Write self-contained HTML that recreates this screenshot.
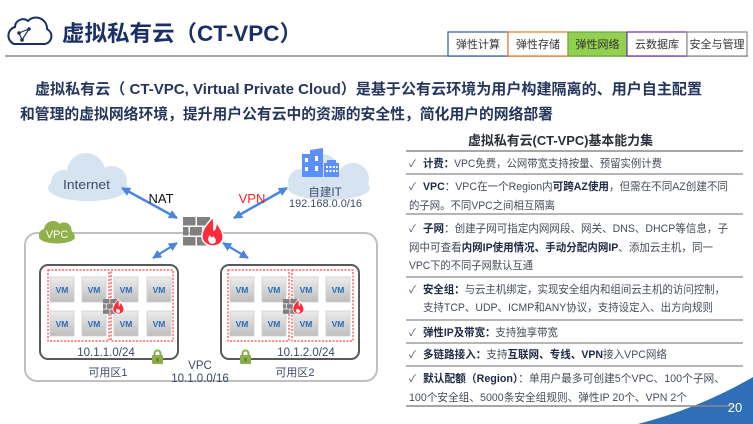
<!DOCTYPE html>
<html><head><meta charset="utf-8">
<style>
html,body{margin:0;padding:0;background:#fff;width:753px;height:424px;overflow:hidden;}
svg{display:block;}
text{font-family:"Liberation Sans","Noto Sans CJK SC",sans-serif;}
</style></head>
<body>
<svg width="753" height="424" viewBox="0 0 753 424" xmlns="http://www.w3.org/2000/svg">
<defs>
<linearGradient id="vmg" x1="0" y1="0" x2="0" y2="1">
<stop offset="0" stop-color="#ededed"/><stop offset="1" stop-color="#bdbdbd"/>
</linearGradient>
<marker id="ah" viewBox="0 0 10 10" refX="9" refY="5" markerWidth="9" markerHeight="9" markerUnits="userSpaceOnUse" orient="auto-start-reverse">
<path d="M0,0 L10,5 L0,10 Z" fill="#4a86e0"/>
</marker>
<g id="fw">
<rect x="0" y="0" width="12.5" height="8.5" fill="#808080"/>
<rect x="14" y="0" width="13" height="8.5" fill="#808080"/>
<rect x="0" y="10" width="5.5" height="8.5" fill="#808080"/>
<rect x="7" y="10" width="12" height="8.5" fill="#808080"/>
<rect x="20.5" y="10" width="6.5" height="8.5" fill="#808080"/>
<rect x="0" y="20" width="12.5" height="8.5" fill="#808080"/>
<rect x="14" y="20" width="13" height="8.5" fill="#808080"/>
<path d="M30,0 C24,7 18,13 19,21 C20,26 25,29 30,29 C36,29 41,25 40,18 C39,12 35,9 34,5 C32,9 33,12 31,13 C31,9 31,4 30,0 Z" fill="#ff2b3a" stroke="#fff" stroke-width="1.5"/>
<path d="M29,27 C25,26 24,21 27,18 C28,21 30,21 30,19 C32,21 34,23 32,26 Z" fill="#fff"/>
</g>
<g id="lock">
<path d="M2.5,7 V4.5 a3,3 0 0 1 6,0 V7" fill="none" stroke="#8bb04b" stroke-width="2"/>
<rect x="0" y="6" width="11" height="9" rx="1" fill="#8bb04b"/>
<rect x="4.5" y="9" width="2" height="3.5" fill="#5d7a2a"/>
</g>
</defs>

<!-- Header -->
<path d="M14,44 H45 a8,8 0 0 0 2,-15 a11,11 0 0 0 -19,-8 a8,8 0 0 0 -13,6 a9,9 0 0 0 -1,17 Z" fill="none" stroke="#1a2f66" stroke-width="2"/>
<path d="M19,33 L29,29 L22,40 Z" fill="none" stroke="#1a2f66" stroke-width="1.2"/>
<circle cx="19" cy="33" r="1.8" fill="#1a2f66"/>
<circle cx="29" cy="29" r="1.8" fill="#1a2f66"/>
<circle cx="22" cy="40" r="1.8" fill="#1a2f66"/>
<text x="62" y="41" font-size="22" font-weight="bold" fill="#1a2f66" textLength="240" lengthAdjust="spacingAndGlyphs">虚拟私有云（CT-VPC）</text>
<line x1="5" y1="56" x2="748" y2="56" stroke="#8a8a8a" stroke-width="1.5"/>

<!-- Tabs -->
<rect x="448" y="32" width="60" height="24" fill="#fff" stroke="#2e5d9c" stroke-width="1.2"/>
<rect x="508" y="32" width="60" height="24" fill="#fff" stroke="#ec7c22" stroke-width="1.2"/>
<rect x="568" y="32" width="59" height="24" fill="#92d050" stroke="#6fa33a" stroke-width="1.2"/>
<rect x="627" y="32" width="60" height="24" fill="#fff" stroke="#7030a0" stroke-width="1.2"/>
<rect x="687" y="32" width="60" height="24" fill="#fff" stroke="#8a8a8a" stroke-width="1.2"/>
<text x="478" y="48" font-size="11" fill="#333" text-anchor="middle">弹性计算</text>
<text x="538" y="48" font-size="11" fill="#333" text-anchor="middle">弹性存储</text>
<text x="597.5" y="48" font-size="11" fill="#333" text-anchor="middle">弹性网络</text>
<text x="657" y="48" font-size="11" fill="#333" text-anchor="middle">云数据库</text>
<text x="717" y="48" font-size="11" fill="#333" text-anchor="middle">安全与管理</text>

<!-- Main text -->
<text x="35" y="94" font-size="15" font-weight="bold" fill="#24365c" textLength="667" lengthAdjust="spacingAndGlyphs">虚拟私有云（ CT-VPC, Virtual Private Cloud）是基于公有云环境为用户构建隔离的、用户自主配置</text>
<text x="20" y="119" font-size="15" font-weight="bold" fill="#24365c" textLength="533" lengthAdjust="spacingAndGlyphs">和管理的虚拟网络环境，提升用户公有云中的资源的安全性，简化用户的网络部署</text>

<!-- Right panel -->
<text x="468" y="145" font-size="13" font-weight="bold" fill="#2a2f3a" textLength="185" lengthAdjust="spacingAndGlyphs">虚拟私有云(CT-VPC)基本能力集</text>
<g stroke="#8a8a8a" stroke-width="1.2">
<line x1="406" y1="151" x2="743" y2="151" stroke-width="1.6"/>
<line x1="406" y1="174" x2="743" y2="174"/>
<line x1="406" y1="214" x2="743" y2="214"/>
<line x1="406" y1="277" x2="743" y2="277"/>
<line x1="406" y1="320" x2="743" y2="320"/>
<line x1="406" y1="343" x2="743" y2="343"/>
<line x1="406" y1="366" x2="743" y2="366"/>
</g>
<g font-size="10" fill="#3b4a6b">
<text x="409" y="167">✓</text>
<text x="409" y="190">✓</text>
<text x="409" y="232">✓</text>
<text x="409" y="293">✓</text>
<text x="409" y="336">✓</text>
<text x="409" y="358">✓</text>
<text x="409" y="382">✓</text>
</g>
<g font-size="11" fill="#454c58">
<text x="423" y="167" textLength="239" lengthAdjust="spacingAndGlyphs"><tspan font-weight="bold" fill="#1e2a44">计费：</tspan>VPC免费，公网带宽支持按量、预留实例计费</text>
<text x="423" y="190" textLength="305" lengthAdjust="spacingAndGlyphs"><tspan font-weight="bold" fill="#1e2a44">VPC</tspan>：VPC在一个Region内<tspan font-weight="bold" fill="#1e2a44">可跨AZ使用</tspan>，但需在不同AZ创建不同</text>
<text x="409" y="209" textLength="146" lengthAdjust="spacingAndGlyphs">的子网。不同VPC之间相互隔离</text>
<text x="423" y="232" textLength="305" lengthAdjust="spacingAndGlyphs"><tspan font-weight="bold" fill="#1e2a44">子网</tspan>：创建子网可指定内网网段、网关、DNS、DHCP等信息，子</text>
<text x="409" y="251" textLength="304" lengthAdjust="spacingAndGlyphs">网中可查看<tspan font-weight="bold" fill="#1e2a44">内网IP使用情况、手动分配内网IP</tspan>、添加云主机，同一</text>
<text x="409" y="269" textLength="124" lengthAdjust="spacingAndGlyphs">VPC下的不同子网默认互通</text>
<text x="423" y="293" textLength="302" lengthAdjust="spacingAndGlyphs"><tspan font-weight="bold" fill="#1e2a44">安全组：</tspan>与云主机绑定，实现安全组内和组间云主机的访问控制，</text>
<text x="423" y="311" textLength="290" lengthAdjust="spacingAndGlyphs">支持TCP、UDP、ICMP和ANY协议，支持设定入、出方向规则</text>
<text x="423" y="336" textLength="135" lengthAdjust="spacingAndGlyphs"><tspan font-weight="bold" fill="#1e2a44">弹性IP及带宽：</tspan>支持独享带宽</text>
<text x="423" y="358" textLength="244" lengthAdjust="spacingAndGlyphs"><tspan font-weight="bold" fill="#1e2a44">多链路接入：</tspan>支持<tspan font-weight="bold" fill="#1e2a44">互联网、专线、VPN</tspan>接入VPC网络</text>
<text x="423" y="382" textLength="302" lengthAdjust="spacingAndGlyphs"><tspan font-weight="bold" fill="#1e2a44">默认配额（Region）</tspan>：单用户最多可创建5个VPC、100个子网、</text>
<text x="409" y="401" textLength="278" lengthAdjust="spacingAndGlyphs">100个安全组、5000条安全组规则、弹性IP 20个、VPN 2个</text>
</g>

<!-- Bottom right corner -->
<path d="M638,424 Q700,408 753,377 L753,424 Z" fill="#2e6fb7"/>
<line x1="406" y1="406" x2="735" y2="406" stroke="#8a8a8a" stroke-width="1.5"/>
<text x="735" y="412" font-size="13" fill="#fff" text-anchor="middle">20</text>

<!-- Diagram: clouds -->
<g fill="#d6e4f1">
<ellipse cx="88" cy="188" rx="40" ry="13"/>
<circle cx="86" cy="172" r="19"/>
<circle cx="64" cy="183" r="13"/>
<circle cx="112" cy="181" r="15"/>
</g>
<text x="63" y="189" font-size="13" fill="#3d4b6b" textLength="47" lengthAdjust="spacingAndGlyphs">Internet</text>

<g fill="#d6e4f1">
<ellipse cx="329" cy="188" rx="41" ry="12"/>
<circle cx="322" cy="172" r="18"/>
<circle cx="301" cy="182" r="13"/>
<circle cx="353" cy="179" r="16"/>
</g>
<!-- building -->
<path d="M302,154 L310,154 L310,150 L323,148 L323,177 L302,177 Z" fill="#5b8ff9"/>
<rect x="324" y="163" width="15" height="14" fill="#5b8ff9"/>
<rect x="327" y="160" width="9" height="3" fill="#5b8ff9"/>
<g fill="#fff">
<rect x="305" y="158" width="3" height="4"/><rect x="305" y="167" width="3" height="4"/>
<rect x="315" y="156" width="3" height="5"/><rect x="315" y="166" width="3" height="5"/>
<rect x="326" y="166" width="2" height="2"/><rect x="329.5" y="166" width="2" height="2"/><rect x="333" y="166" width="2" height="2"/><rect x="336" y="166" width="1.5" height="2"/>
<rect x="326" y="170" width="2" height="2"/><rect x="329.5" y="170" width="2" height="2"/><rect x="333" y="170" width="2" height="2"/><rect x="336" y="170" width="1.5" height="2"/>
</g>
<text x="325" y="196" font-size="11.5" fill="#3d4b6b" text-anchor="middle">自建IT</text>
<text x="289" y="207" font-size="11" fill="#3d4b6b" textLength="73" lengthAdjust="spacingAndGlyphs">192.168.0.0/16</text>

<!-- arrows top -->
<line x1="122" y1="188" x2="177" y2="218" stroke="#4a86e0" stroke-width="2.5" marker-start="url(#ah)" marker-end="url(#ah)"/>
<line x1="287" y1="188" x2="234" y2="218" stroke="#4a86e0" stroke-width="2.5" marker-start="url(#ah)" marker-end="url(#ah)"/>
<text x="161" y="203" font-size="13" fill="#111" text-anchor="middle">NAT</text>
<text x="252" y="203" font-size="13" fill="#ff2020" text-anchor="middle">VPN</text>

<!-- VPC container -->
<rect x="25" y="233" width="352" height="148" rx="12" fill="none" stroke="#c0c0c0" stroke-width="2"/>
<g fill="#8fb04a">
<ellipse cx="57" cy="237" rx="18" ry="6.5"/>
<circle cx="53" cy="230" r="9"/>
<circle cx="64" cy="230" r="7.5"/>
<circle cx="45" cy="235" r="6"/>
<circle cx="69" cy="236" r="5.5"/>
</g>
<text x="57" y="238" font-size="11" fill="#fff" text-anchor="middle">VPC</text>

<!-- firewall -->
<use href="#fw" transform="translate(183,217)"/>

<!-- small arrows -->
<line x1="177" y1="243" x2="153" y2="258" stroke="#4a86e0" stroke-width="2.2" marker-start="url(#ah)" marker-end="url(#ah)"/>
<line x1="223" y1="243" x2="248" y2="258" stroke="#4a86e0" stroke-width="2.2" marker-start="url(#ah)" marker-end="url(#ah)"/>

<!-- AZ boxes -->
<rect x="40" y="265" width="138" height="94" rx="8" fill="none" stroke="#595959" stroke-width="2"/>
<rect x="221" y="265" width="138" height="94" rx="8" fill="none" stroke="#595959" stroke-width="2"/>
<g fill="none" stroke="#ff4040" stroke-width="1.2" stroke-dasharray="2,1.5">
<rect x="48" y="270" width="61" height="71"/>
<rect x="111" y="270" width="62" height="71"/>
<rect x="228" y="270" width="61" height="71"/>
<rect x="292" y="270" width="61" height="71"/>
</g>

<!-- VMs -->
<g fill="url(#vmg)" stroke="#cfcfcf" stroke-width="0.8">
<rect x="50" y="277" width="24" height="25"/><rect x="82" y="277" width="24" height="25"/><rect x="114" y="277" width="24" height="25"/><rect x="147" y="277" width="24" height="25"/>
<rect x="50" y="311" width="24" height="25"/><rect x="82" y="311" width="24" height="25"/><rect x="114" y="311" width="24" height="25"/><rect x="147" y="311" width="24" height="25"/>
<rect x="230" y="277" width="24" height="25"/><rect x="262" y="277" width="24" height="25"/><rect x="294" y="277" width="24" height="25"/><rect x="326" y="277" width="24" height="25"/>
<rect x="230" y="311" width="24" height="25"/><rect x="262" y="311" width="24" height="25"/><rect x="294" y="311" width="24" height="25"/><rect x="326" y="311" width="24" height="25"/>
</g>
<g font-size="8.5" font-weight="bold" fill="#2a6cb8" text-anchor="middle">
<text x="62" y="293">VM</text><text x="94" y="293">VM</text><text x="126" y="293">VM</text><text x="159" y="293">VM</text>
<text x="62" y="327">VM</text><text x="94" y="327">VM</text><text x="126" y="327">VM</text><text x="159" y="327">VM</text>
<text x="242" y="293">VM</text><text x="274" y="293">VM</text><text x="306" y="293">VM</text><text x="338" y="293">VM</text>
<text x="242" y="327">VM</text><text x="274" y="327">VM</text><text x="306" y="327">VM</text><text x="338" y="327">VM</text>
</g>

<!-- mini firewalls -->
<use href="#fw" transform="translate(103,299) scale(0.52)"/>
<use href="#fw" transform="translate(283,299) scale(0.52)"/>

<!-- locks -->
<use href="#lock" transform="translate(152,349)"/>
<use href="#lock" transform="translate(240,349)"/>

<!-- labels -->
<g fill="#3a4a6a">
<text x="106" y="356" font-size="11.5" text-anchor="middle">10.1.1.0/24</text>
<text x="306" y="356" font-size="11.5" text-anchor="middle">10.1.2.0/24</text>
<text x="108" y="376" font-size="11" text-anchor="middle">可用区1</text>
<text x="295" y="376" font-size="11" text-anchor="middle">可用区2</text>
<text x="200" y="369" font-size="11.5" text-anchor="middle">VPC</text>
<text x="200" y="382" font-size="11.5" text-anchor="middle">10.1.0.0/16</text>
</g>
</svg>
</body></html>
